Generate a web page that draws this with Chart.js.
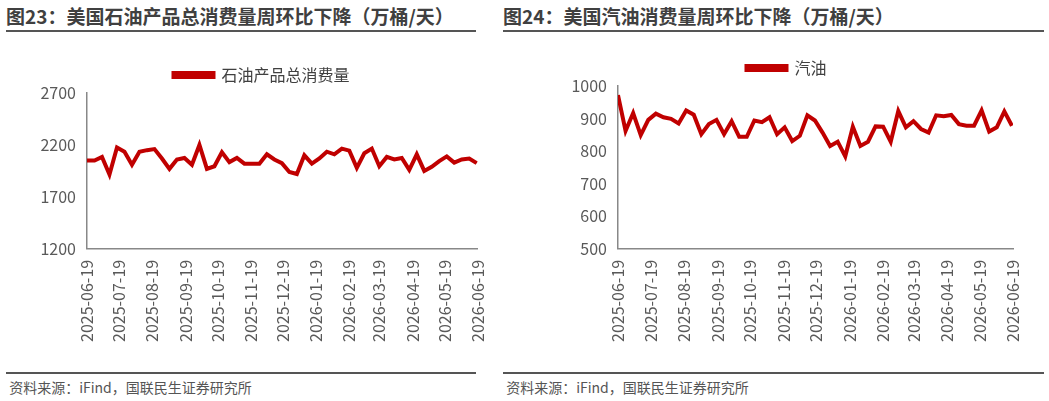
<!DOCTYPE html>
<html><head><meta charset="utf-8">
<script src="https://cdn.jsdelivr.net/npm/chart.js@4"></script>
<style>
body{margin:0;background:#fff;font-family:"Noto Sans CJK SC",sans-serif;width:1049px;height:401px;position:relative;overflow:hidden}
.t{position:absolute;top:3px;font-size:19px;font-weight:bold;color:#404040;border-bottom:2px solid #555;padding-bottom:1px;height:26px;line-height:26px;white-space:nowrap}
.s{position:absolute;top:372px;font-size:14px;color:#555;border-top:2px solid #555;padding-top:3px;line-height:20px}
.c{position:absolute;top:40px;height:330px}
</style></head><body>
<div class="t" style="left:6px;width:470px">图23：美国石油产品总消费量周环比下降（万桶/天）</div>
<div class="t" style="left:503px;width:541px">图24：美国汽油消费量周环比下降（万桶/天）</div>
<div class="c" style="left:0;width:500px"><canvas id="c1"></canvas></div>
<div class="c" style="left:503px;width:541px"><canvas id="c2"></canvas></div>
<div class="s" style="left:6px;width:470px">&nbsp;资料来源：iFind，国联民生证券研究所</div>
<div class="s" style="left:503px;width:541px">&nbsp;资料来源：iFind，国联民生证券研究所</div>
<script>
const tickLabels=["2025-06-19","2025-07-19","2025-08-19","2025-09-19","2025-10-19","2025-11-19","2025-12-19","2026-01-19","2026-02-19","2026-03-19","2026-04-19","2026-05-19","2026-06-19"];
const tickDays=[0,30,61,92,122,153,183,214,245,273,304,334,365];
const totalConsumption=[2050,2050,2085,1915,2175,2135,2010,2135,2150,2160,2070,1970,2060,2075,2010,2200,1970,1995,2130,2035,2075,2020,2020,2020,2110,2060,2025,1940,1920,2100,2020,2070,2135,2110,2165,2145,1980,2120,2165,1995,2085,2060,2075,1960,2110,1950,1990,2045,2090,2030,2060,2070,2025];
const gasoline=[972,862,917,849,896,915,904,899,885,925,912,852,883,896,852,892,844,844,894,889,904,852,873,831,847,910,894,857,816,829,784,875,816,829,876,875,829,923,873,892,868,857,910,907,911,883,878,878,925,860,873,922,878];
const FONT='"Noto Sans CJK SC",sans-serif';
function mk(id,name,vals,ymin,ymax,step,yw,padL,padR,padT){
  new Chart(document.getElementById(id),{type:'line',
   data:{datasets:[{label:name,data:vals.map((v,i)=>({x:i*7,y:v})),borderColor:'#C00000',backgroundColor:'#C00000',borderWidth:4,pointRadius:0,tension:0}]},
   options:{responsive:true,maintainAspectRatio:false,animation:false,
    layout:{padding:{left:padL,right:padR,top:padT,bottom:25}},
    plugins:{legend:{labels:{font:{size:16,family:FONT},color:'#404040',boxWidth:40,boxHeight:4,padding:14}},tooltip:{enabled:false}},
    scales:{
     x:{type:'linear',min:0,max:365,grid:{display:false,drawTicks:true},border:{color:'#888',width:1.5},
        afterBuildTicks:a=>{a.ticks=tickDays.map(v=>({value:v}));},
        ticks:{autoSkip:false,maxRotation:90,minRotation:90,color:'#595959',font:{size:16,family:FONT},callback:(v,i)=>tickLabels[i]}},
     y:{min:ymin,max:ymax,grid:{display:false},border:{color:'#888',width:1.5},afterFit:s=>{s.width=yw;},
        ticks:{stepSize:step,color:'#595959',font:{size:16,family:FONT},callback:v=>String(v)}}
    }}});
}
mk('c1','石油产品总消费量',totalConsumption,1200,2700,500,64,23,0,13);
mk('c2','汽油',gasoline,500,1000,100,58,57,31,6);
</script></body></html>
